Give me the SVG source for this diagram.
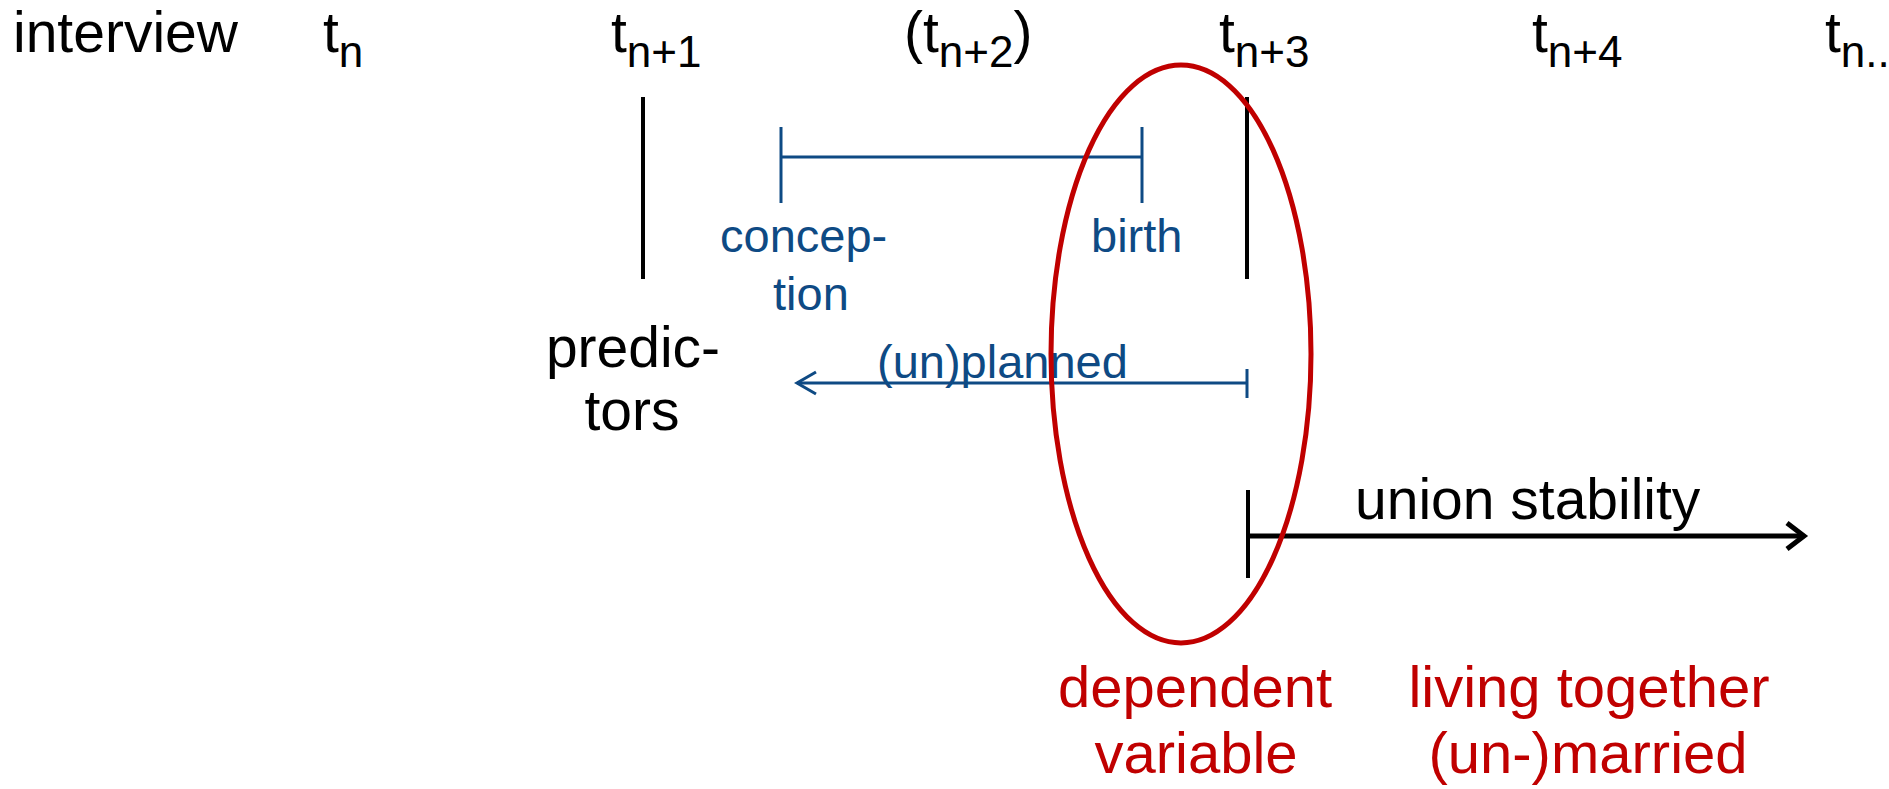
<svg xmlns="http://www.w3.org/2000/svg" width="1889" height="789" viewBox="0 0 1889 789">
<style>
text{font-family:"Liberation Sans",Arial,sans-serif}
.k{fill:#000;font-size:57px}
.b{fill:#0e4a84;font-size:47px}
.r{fill:#c00000;font-size:58px}
.sub{font-size:44px}
.bar{stroke:#000;stroke-width:4;fill:none}
.bl{stroke:#0e4a84;stroke-width:3;fill:none}
.blk{stroke:#000;stroke-width:5;fill:none}
</style>
<rect width="1889" height="789" fill="#fff"/>
<g id="header">
<text class="k" x="13" y="52">interview</text>
<text class="k" x="323" y="52">t<tspan class="sub" dy="15">n</tspan></text>
<text class="k" x="611" y="52">t<tspan class="sub" dy="15">n+1</tspan></text>
<text class="k" x="904" y="52">(t<tspan class="sub" dy="15">n+2</tspan><tspan dy="-15">)</tspan></text>
<text class="k" x="1219" y="52">t<tspan class="sub" dy="15">n+3</tspan></text>
<text class="k" x="1532" y="52">t<tspan class="sub" dy="15">n+4</tspan></text>
<text class="k" x="1825" y="52">t<tspan class="sub" dy="15">n..</tspan></text>
</g>
<g id="predictors">
<line class="bar" x1="643" y1="97" x2="643" y2="279"/>
<text class="k" text-anchor="middle" x="633" y="367">predic-</text>
<text class="k" text-anchor="middle" x="632" y="430">tors</text>
</g>
<g id="birth-bar">
<line class="bar" x1="1247" y1="97" x2="1247" y2="279"/>
</g>
<g id="conception">
<text class="b" x="720" y="252">concep-</text>
<text class="b" x="773" y="310">tion</text>
</g>
<g id="birth">
<text class="b" x="1091" y="252">birth</text>
</g>
<g id="unplanned">
<text class="b" x="877" y="378">(un)planned</text>
</g>
<g id="union-stability">
<line class="bar" x1="1248" y1="490" x2="1248" y2="578"/>
<text class="k" x="1355" y="519">union stability</text>
</g>
<g id="connectors">
<line class="bl" x1="781" y1="157" x2="1142" y2="157"/>
<line class="bl" x1="781" y1="127" x2="781" y2="203"/>
<line class="bl" x1="1142" y1="127" x2="1142" y2="203"/>
<line class="bl" x1="797" y1="383" x2="1247" y2="383"/>
<line class="bl" x1="1247" y1="369" x2="1247" y2="398"/>
<polyline class="bl" points="816,372 797,383 816,394"/>
<line class="blk" x1="1248" y1="536" x2="1803" y2="536"/>
<polyline class="blk" points="1787,523 1804,536 1787,549"/>
</g>
<g id="dependent-variable">
<ellipse cx="1181" cy="354" rx="130" ry="289" fill="none" stroke="#c00000" stroke-width="5"/>
<text class="r" text-anchor="middle" x="1195" y="707">dependent</text>
<text class="r" text-anchor="middle" x="1196" y="773">variable</text>
</g>
<g id="living-together">
<text class="r" text-anchor="middle" x="1589" y="707">living together</text>
<text class="r" text-anchor="middle" x="1588" y="773">(un-)married</text>
</g>
</svg>
